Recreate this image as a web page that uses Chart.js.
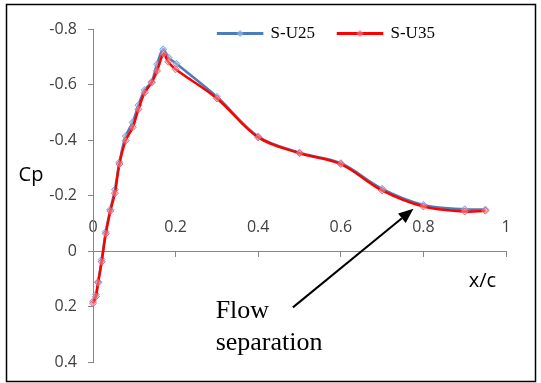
<!DOCTYPE html>
<html>
<head>
<meta charset="utf-8">
<script src="https://cdn.jsdelivr.net/npm/chart.js@4/dist/chart.umd.min.js"></script>
<style>
  html, body { margin: 0; padding: 0; background: #fff; }
  #cp { display: block; }
</style>
</head>
<body>
<canvas id="cp" width="541" height="383"></canvas>
<script>
// values
const seriesNames = ["S-U25", "S-U35"];
const xU25 = [0, 0.007, 0.0125, 0.021, 0.031, 0.042, 0.053, 0.064, 0.079, 0.096, 0.110, 0.125, 0.142, 0.155, 0.170, 0.183, 0.202, 0.30, 0.40, 0.50, 0.60, 0.70, 0.80, 0.90, 0.95];
const cpU25 = [0.18, 0.155, 0.11, 0.03, -0.07, -0.15, -0.222, -0.32, -0.414, -0.464, -0.526, -0.58, -0.61, -0.673, -0.727, -0.697, -0.675, -0.556, -0.413, -0.355, -0.317, -0.225, -0.167, -0.151, -0.15];
const xU35 = [0, 0.007, 0.0125, 0.021, 0.031, 0.042, 0.053, 0.064, 0.079, 0.096, 0.110, 0.125, 0.142, 0.155, 0.171, 0.182, 0.200, 0.30, 0.40, 0.50, 0.60, 0.70, 0.80, 0.90, 0.95];
const cpU35 = [0.187, 0.163, 0.113, 0.038, -0.063, -0.145, -0.209, -0.314, -0.398, -0.446, -0.511, -0.571, -0.607, -0.649, -0.711, -0.682, -0.655, -0.55, -0.41, -0.353, -0.314, -0.219, -0.161, -0.143, -0.146];
const xTicks = [0, 0.2, 0.4, 0.6, 0.8, 1];
const yTicks = [-0.8, -0.6, -0.4, -0.2, 0, 0.2, 0.4];

const toPts = (xs, ys) => xs.map((x, i) => ({ x: x, y: ys[i] }));

// frame, axis titles and the "Flow separation" note
const extras = {
  id: "extras",
  beforeDraw(chart) {
    const ctx = chart.ctx;
    ctx.save();
    ctx.fillStyle = "#fff";
    ctx.fillRect(0, 0, chart.width, chart.height);
    ctx.strokeStyle = "#000";
    ctx.lineWidth = 1.5;
    ctx.strokeRect(6.5, 4.5, 529, 377);
    ctx.restore();
  },
  afterLayout(chart) {
    // legend goes inside the plot, a bit right of centre
    const lg = chart.legend, ca = chart.chartArea;
    lg.left = ca.left + 27;
    lg.right = ca.right + 27;
    lg.top = ca.top - 27;
    lg.bottom = ca.top + 25;
  },
  afterDraw(chart) {
    const ctx = chart.ctx;
    const xs = chart.scales.x, ys = chart.scales.y;
    ctx.save();

    // small diamond in the middle of each legend line
    const lg = chart.legend;
    lg.legendHitBoxes.forEach((hb, i) => {
      const ds = chart.data.datasets[lg.legendItems[i].datasetIndex];
      const cx = hb.left + 22, cy = hb.top + hb.height / 2, r = 3;
      ctx.beginPath();
      ctx.moveTo(cx, cy - r);
      ctx.lineTo(cx + r, cy);
      ctx.lineTo(cx, cy + r);
      ctx.lineTo(cx - r, cy);
      ctx.closePath();
      ctx.fillStyle = ds.pointBackgroundColor;
      ctx.strokeStyle = ds.pointBorderColor;
      ctx.lineWidth = 1;
      ctx.fill();
      ctx.stroke();
    });

    ctx.fillStyle = "#000";
    ctx.textBaseline = "middle";
    ctx.textAlign = "center";
    ctx.font = "20px 'Open Sans'";
    ctx.fillText("Cp", chart.chartArea.left - 62, ys.getPixelForValue(-0.275));
    ctx.fillText("x/c", xs.getPixelForValue(0.943), ys.getPixelForValue(0.109));

    ctx.textAlign = "left";
    ctx.textBaseline = "alphabetic";
    ctx.font = "26px 'Liberation Serif'";
    ctx.fillText("Flow", xs.getPixelForValue(0.297), ys.getPixelForValue(0.241));
    ctx.fillText("separation", xs.getPixelForValue(0.297), ys.getPixelForValue(0.354));

    // arrow
    const x0 = xs.getPixelForValue(0.484), y0 = ys.getPixelForValue(0.202);
    const x1 = xs.getPixelForValue(0.776), y1 = ys.getPixelForValue(-0.153);
    const a = Math.atan2(y1 - y0, x1 - x0);
    const hl = 15, hw = 6;
    const bx = x1 - hl * Math.cos(a), by = y1 - hl * Math.sin(a);
    ctx.strokeStyle = "#000";
    ctx.lineWidth = 2;
    ctx.beginPath();
    ctx.moveTo(x0, y0);
    ctx.lineTo(bx, by);
    ctx.stroke();
    ctx.beginPath();
    ctx.moveTo(x1, y1);
    ctx.lineTo(bx + hw * Math.sin(a), by - hw * Math.cos(a));
    ctx.lineTo(bx - hw * Math.sin(a), by + hw * Math.cos(a));
    ctx.closePath();
    ctx.fill();
    ctx.restore();
  },
};

const tickFont = { family: "'Open Sans'", size: 16 };

new Chart(document.getElementById("cp").getContext("2d"), {
  type: "line",
  data: {
    datasets: [
      {
        label: seriesNames[0],
        data: toPts(xU25, cpU25),
        borderColor: "#4A7EBB",
        backgroundColor: "#4A7EBB",
        borderWidth: 2.5,
        pointStyle: "rectRot",
        pointRadius: 3.5,
        pointBorderWidth: 1,
        pointBorderColor: "rgba(120,160,215,0.9)",
        pointBackgroundColor: "rgba(170,195,230,0.6)",
        tension: 0.35,
        clip: false,
        order: 1,
      },
      {
        label: seriesNames[1],
        data: toPts(xU35, cpU35),
        borderColor: "#FF0000",
        backgroundColor: "#FF0000",
        borderWidth: 2.5,
        pointStyle: "rectRot",
        pointRadius: 3.5,
        pointBorderWidth: 1,
        pointBorderColor: "rgba(235,90,110,0.9)",
        pointBackgroundColor: "rgba(245,160,170,0.5)",
        tension: 0.35,
        clip: false,
        order: 0,
      },
    ],
  },
  options: {
    responsive: false,
    animation: false,
    layout: { padding: { left: 0, top: -21, right: 35, bottom: 18.5 } },
    plugins: {
      legend: {
        position: "top",
        align: "center",
        labels: {
          boxWidth: 44,
          boxHeight: 0.5,
          padding: 23,
          color: "#000",
          font: { family: "'Liberation Serif'", size: 17 },
          sort: (a, b) => a.datasetIndex - b.datasetIndex,
        },
      },
      tooltip: { enabled: false },
    },
    scales: {
      x: {
        type: "linear",
        position: { y: 0 },
        min: 0,
        max: 1,
        afterBuildTicks: (s) => { s.ticks = xTicks.map((v) => ({ value: v })); },
        ticks: {
          color: "#404040",
          font: tickFont,
          padding: -38,
          maxRotation: 0,
          callback: (v) => String(+v.toFixed(1)),
        },
        grid: { drawOnChartArea: false, drawTicks: true, tickLength: 5, color: "#868686" },
        border: { color: "#868686", width: 1 },
      },
      y: {
        type: "linear",
        reverse: true,
        min: -0.8,
        max: 0.4,
        afterBuildTicks: (s) => { s.ticks = yTicks.map((v) => ({ value: v })); },
        afterFit: (s) => { s.width = 93; },
        ticks: {
          color: "#404040",
          font: tickFont,
          padding: 11,
          callback: (v) => String(+v.toFixed(1)),
        },
        grid: { drawOnChartArea: false, drawTicks: true, tickLength: 5, color: "#868686" },
        border: { color: "#868686", width: 1 },
      },
    },
  },
  plugins: [extras],
});
</script>
</body>
</html>
